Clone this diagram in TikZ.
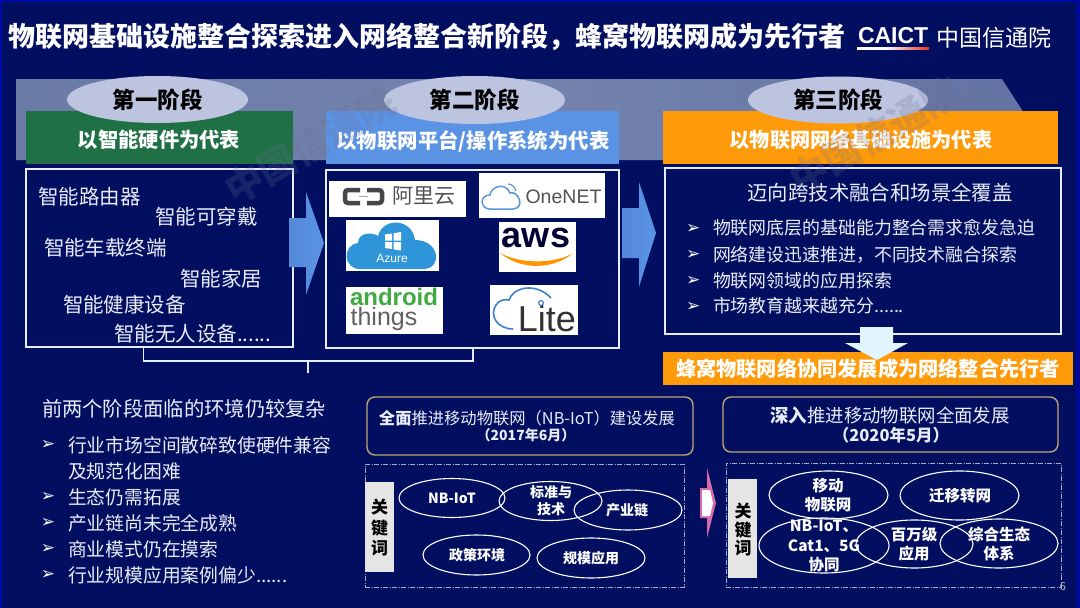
\documentclass[tikz,border=0pt]{standalone}
\usepackage{fontspec}
\setmainfont{Noto Sans CJK SC}
\newfontfamily\arrowfont{DejaVu Sans}
\newfontfamily\logofont{Liberation Sans}
\usetikzlibrary{shapes.geometric}
\definecolor{bgnavy}{HTML}{020F60}
\definecolor{bandblue}{HTML}{7484AE}
\definecolor{stagegreen}{HTML}{1F7045}
\definecolor{stageblue}{HTML}{5B93E4}
\definecolor{stageorange}{HTML}{FF9A0A}
\definecolor{ovalgrey}{HTML}{BCC4E0}
\definecolor{boxline}{HTML}{E6ECF8}
\definecolor{goldline}{HTML}{BBA673}
\definecolor{textwhite}{HTML}{E8ECF8}
\definecolor{wmgrey}{HTML}{6A6F90}
\newcommand{\fs}[1]{\fontsize{#1}{#1}\selectfont}
\newcommand{\bul}{\arrowfont ➢}
\tikzset{
  x=1pt,y=-1pt,
  txt/.style={inner sep=0pt,outer sep=0pt,text=textwhite},
  ltxt/.style={txt,anchor=west},
  stagelabel/.style={ellipse,fill=ovalgrey,inner sep=0pt,text=black,font=\fs{22.5}\bfseries},
  stagebar/.style={rectangle,inner sep=0pt},
  framebox/.style={rectangle,draw=boxline,line width=1.5pt,inner sep=0pt},
  goldbox/.style={rectangle,draw=goldline,line width=1.4pt,rounded corners=8pt,inner sep=0pt},
  dashbox/.style={rectangle,draw=boxline!70!bgnavy,line width=.9pt,dash pattern=on 5pt off 1.5pt on 1pt off 1.5pt,inner sep=0pt},
  keybox/.style={rectangle,fill=black!10,inner sep=0pt},
  keytxt/.style={inner sep=0pt,text=black,font=\fs{#1}\bfseries},
  oval/.style={ellipse,draw=white,line width=1.1pt,inner sep=0pt},
  ovaltxt/.style={inner sep=0pt,text=white,align=center,font=\fs{#1}\bfseries},
  bl/.style={ltxt,font=\fs{17.9}},
  bu/.style={ltxt,font=\fs{17},text=white},
  logobox/.style={rectangle,fill=white,inner sep=0pt},
  wm/.style={inner sep=0pt,rotate=30,text=wmgrey,opacity=.22,font=\fs{#1}\bfseries}
}
\begin{document}
\begin{tikzpicture}
\useasboundingbox (0,0) rectangle (1080,608);
\fill[bgnavy] (0,0) rectangle (1080,608);
\fill[blue!45!bgnavy] (0,0) rectangle (1080,1.5);
\fill[blue!45!bgnavy] (0,0) rectangle (1.5,608);
\fill[blue!35!bgnavy] (1076,0) rectangle (1080,608);

% title
\node[ltxt,text=white,font=\fs{27}\bfseries] (title) at (9,37) {物联网基础设施整合探索进入网络整合新阶段，蜂窝物联网成为先行者};
\node[ltxt,text=white,font=\logofont\fs{23}\bfseries] (caict) at (858,36) {CAICT};
\shade[left color=white,right color=white,middle color=white] (857,47) rectangle (890,49.5);
\shade[left color=white,right color=red!60!brown] (885,47) rectangle (929,49.5);
\node[ltxt,text=white,font=\fs{23}] (caictcn) at (936,38) {中国信通院};

% band
\shade[left color=bandblue!92!bgnavy,right color=bandblue!85!bgnavy,middle color=bandblue] (16,79) -- (1002,79) -- (1022,110) -- (1022,160) -- (16,160) -- cycle;

% stage bars
\node[stagebar,fill=stagegreen,minimum width=267pt,minimum height=53pt] (bar1) at (159.5,137.5) {};
\node[txt,text=white,font=\fs{20.3}\bfseries] (bar1t) at (159,140) {以智能硬件为代表};
\node[stagebar,fill=stageblue,minimum width=293pt,minimum height=53pt] (bar2) at (472.5,137.5) {};
\node[txt,text=white,font=\fs{20.4}\bfseries] (bar2t) at (473,141) {以物联网平台/操作系统为代表};
\node[stagebar,fill=stageorange,minimum width=395pt,minimum height=53pt] (bar3) at (860.5,137.5) {};
\node[txt,text=white,font=\fs{20.2}\bfseries] (bar3t) at (861,140) {以物联网网络基础设施为代表};

% stage ovals
\node[stagelabel,minimum width=181pt,minimum height=47pt] (st1) at (157.5,99.5) {第一阶段};
\node[stagelabel,minimum width=181pt,minimum height=48pt] (st2) at (474.5,100) {第二阶段};
\node[stagelabel,minimum width=180pt,minimum height=47pt] (st3) at (838,100) {第三阶段};

% frames
\node[framebox,minimum width=267pt,minimum height=178pt] (box1) at (159.5,258) {};
\node[framebox,minimum width=293pt,minimum height=178pt] (box2) at (472.5,259) {};
\node[framebox,minimum width=396pt,minimum height=166pt] (box3) at (863,251) {};

% box 1 text
\node[ltxt,font=\fs{20.5}] (h1) at (38,197) {智能路由器};
\node[ltxt,font=\fs{20.5}] (h2) at (155,217) {智能可穿戴};
\node[ltxt,font=\fs{20.5}] (h3) at (44,248) {智能车载终端};
\node[ltxt,font=\fs{20.5}] (h4) at (180,279) {智能家居};
\node[ltxt,font=\fs{20.5}] (h5) at (63,305) {智能健康设备};
\node[ltxt,font=\fs{20.5}] (h6) at (114,334) {智能无人设备......};

% arrows between stages
\shade[left color=stageblue!92!bgnavy,right color=stageblue] (289,218) -- (306,218) -- (306,192) -- (324,243) -- (306,295) -- (306,267) -- (289,267) -- cycle;
\shade[left color=stageblue!92!bgnavy,right color=stageblue] (622,208) -- (639,208) -- (639,182) -- (656,233) -- (639,287) -- (639,258) -- (622,258) -- cycle;

% logos
\node[logobox,minimum width=137pt,minimum height=36pt] (lali) at (397.5,199) {};
\draw[line width=4.5pt,draw=black!72,rounded corners=3pt] (360,190) -- (345,190) -- (345,203) -- (360,203);
\draw[line width=4.5pt,draw=black!72,rounded corners=3pt] (367,190) -- (382,190) -- (382,203) -- (367,203);
\draw[line width=.8pt,draw=black!35] (359,196.5) -- (368,196.5);
\node[txt,text=black!68,font=\fs{21}] (lalit) at (424,196) {阿里云};

\node[logobox,minimum width=126pt,minimum height=45pt] (lone) at (542,195.5) {};
\draw[line width=1.5pt,draw=cyan!60!blue!70] (490,209) .. controls (480,209) and (479,195) .. (490,195) .. controls (491,186) and (506,182) .. (510,193) .. controls (518,190) and (526,208) .. (513,209) -- cycle;
\draw[line width=1.1pt,draw=cyan!60!blue!70] (508,184) .. controls (512,184) and (515,187) .. (516,191);
\node[txt,text=black!68,font=\logofont\fs{19.5}] (lonet) at (563.5,197) {OneNET};

\node[logobox,minimum width=93pt,minimum height=51pt] (lazu) at (392.5,245.5) {};
\fill[cyan!70!blue!85] (360,269) .. controls (343,269) and (342,245) .. (358,243) .. controls (358,232) and (373,232) .. (378,236) .. controls (383,217) and (412,218) .. (415,240) .. controls (440,240) and (443,269) .. (423,269) -- cycle;
\fill[white] (385,234.5) -- (392,233.5) -- (392,240.5) -- (385,240.5) -- cycle;
\fill[white] (393.5,233.2) -- (401,232) -- (401,240.5) -- (393.5,240.5) -- cycle;
\fill[white] (385,242) -- (392,242) -- (392,249) -- (385,248) -- cycle;
\fill[white] (393.5,242) -- (401,242) -- (401,250.5) -- (393.5,249.3) -- cycle;
\node[txt,text=white,font=\logofont\fs{12}] (lazut) at (392,258) {Azure};

\node[logobox,minimum width=77pt,minimum height=50pt] (laws) at (537,247) {};
\node[txt,text=black!80!blue,font=\logofont\fs{36}\bfseries] (lawst) at (536,238) {aws};
\fill[orange!85!yellow] (500,253) .. controls (520,270) and (552,270) .. (572,254) .. controls (552,264) and (520,264) .. cycle;

\node[logobox,minimum width=97pt,minimum height=47pt] (land) at (394.5,310.5) {};
\node[txt,text=green!55!black!75!white,font=\logofont\fs{24}\bfseries] (landt) at (394,297) {android};
\node[txt,text=black!62,font=\logofont\fs{25}] (lthi) at (384,319) {things};

\node[logobox,minimum width=88pt,minimum height=50pt] (llit) at (534,310) {};
\draw[line width=1.6pt,draw=cyan!50!blue!80] (513,329) .. controls (497,329) and (489,315) .. (496,305) .. controls (499,300) and (505,299) .. (509,300) .. controls (513,287) and (536,282) .. (551,298);
\node[txt,text=black!80,font=\logofont\fs{36}] (llitt) at (547,319) {Lite};
\draw[line width=1.2pt,draw=cyan!50!blue!80,fill=white] (541,303) circle[radius=2.4pt];

% bracket
\coordinate (brL) at (143.5,347);
\coordinate (brR) at (473,348);
\coordinate (brS) at (308,361);
\coordinate (brE) at (308,373);
\draw[line width=1.5pt,draw=boxline] (brL) -- (143.5,361) -| (brR);
\draw[line width=1.5pt,draw=boxline] (brS) -- (brE);

% box 3 text
\node[txt,font=\fs{20.4}] (c0) at (880,193) {迈向跨技术融合和场景全覆盖};
\node[bu] (c1b) at (686,229) {\bul};
\node[bl] (c1) at (713,228) {物联网底层的基础能力整合需求愈发急迫};
\node[bu] (c2b) at (686,255) {\bul};
\node[bl] (c2) at (713,255) {网络建设迅速推进，不同技术融合探索};
\node[bu] (c3b) at (686,281) {\bul};
\node[bl] (c3) at (713,281) {物联网领域的应用探索};
\node[bu] (c4b) at (686,307) {\bul};
\node[bl] (c4) at (713,306) {市场教育越来越充分......};

% leader bar + down arrow
\node[rectangle,fill=stageorange,minimum width=410pt,minimum height=33pt,inner sep=0pt] (lead) at (868,368.5) {};
\fill[cyan!12!white] (860,327) -- (893,327) -- (893,343) -- (908,343) -- (877,360) -- (845,343) -- (860,343) -- cycle;
\node[txt,text=white,font=\fs{20.2}\bfseries] (leadt) at (868,369) {蜂窝物联网络协同发展成为网络整合先行者};

% bottom-left list
\node[ltxt,font=\fs{20.3}] (d0) at (42,409) {前两个阶段面临的环境仍较复杂};
\node[bu] (d1b) at (41,445) {\bul};
\node[ltxt,font=\fs{18.8}] (d1) at (68,445) {行业市场空间散碎致使硬件兼容};
\node[ltxt,font=\fs{18.8}] (d1x) at (68,471) {及规范化困难};
\node[bu] (d2b) at (41,497) {\bul};
\node[ltxt,font=\fs{18.8}] (d2) at (68,497) {生态仍需拓展};
\node[bu] (d3b) at (41,523) {\bul};
\node[ltxt,font=\fs{18.8}] (d3) at (68,523) {产业链尚未完全成熟};
\node[bu] (d4b) at (41,549) {\bul};
\node[ltxt,font=\fs{18.8}] (d4) at (68,549) {商业模式仍在摸索};
\node[bu] (d5b) at (41,575) {\bul};
\node[ltxt,font=\fs{18.8}] (d5) at (68,575) {行业规模应用案例偏少......};

% gold boxes
\node[goldbox,minimum width=326pt,minimum height=58pt] (gA) at (530,426) {};
\node[txt,font=\fs{16.3}] (gAt) at (527,418) {\textbf{全面}推进移动物联网（NB-IoT）建设发展};
\node[txt,font=\fs{14}\bfseries] (gAd) at (526,435) {（2017年6月）};
\node[goldbox,minimum width=335pt,minimum height=55pt] (gB) at (890.5,424.5) {};
\node[txt,font=\fs{18.4}] (gBt) at (890,415) {\textbf{深入}推进移动物联网全面发展};
\node[txt,font=\fs{16.5}\bfseries] (gBd) at (891,435) {（2020年5月）};

% dashed boxes
\node[dashbox,minimum width=319pt,minimum height=123pt] (dA) at (524.5,525.5) {};
\node[keybox,minimum width=29pt,minimum height=90pt] (kA) at (379.5,527) {};
\node[keytxt=17] (kA1) at (379.5,507.5) {关};
\node[keytxt=17] (kA2) at (379.5,528) {键};
\node[keytxt=17] (kA3) at (379.5,548) {词};
\node[dashbox,minimum width=335pt,minimum height=124pt] (dB) at (893.5,525) {};
\node[keybox,minimum width=29pt,minimum height=99pt] (kB) at (742.5,528.5) {};
\node[keytxt=17] (kB1) at (743,511) {关};
\node[keytxt=17] (kB2) at (743,530) {键};
\node[keytxt=17] (kB3) at (743,548) {词};

% arrow between dashed boxes
\fill[magenta!60!white!85!black] (700,488) -- (707,488) -- (707,468) -- (716,503) -- (707,538) -- (707,518) -- (700,518) -- cycle;
\fill[white] (702,490) -- (710,490) -- (713,503) -- (710,516) -- (702,516) -- cycle;

% ovals A
\node[oval,minimum width=106pt,minimum height=39pt] (a1) at (452,498) {};
\node[ovaltxt=14] (a1t) at (452,498) {NB-IoT};
\node[oval,minimum width=103pt,minimum height=39pt] (a2) at (550.5,501) {};
\node[ovaltxt=14] (a2t) at (551,501) {标准与\\[3pt]技术};
\node[oval,minimum width=108pt,minimum height=40pt] (a3) at (628,510) {};
\node[ovaltxt=14] (a3t) at (627,510) {产业链};
\node[oval,minimum width=107pt,minimum height=40pt] (a4) at (476.5,555) {};
\node[ovaltxt=14] (a4t) at (477,555) {政策环境};
\node[oval,minimum width=108pt,minimum height=40pt] (a5) at (591,558) {};
\node[ovaltxt=14] (a5t) at (591,558) {规模应用};

% ovals B
\node[oval,minimum width=119pt,minimum height=48pt] (b1) at (828.5,495) {};
\node[ovaltxt=15.5] (b1t) at (828,495) {移动\\[3.5pt]物联网};
\node[oval,minimum width=119pt,minimum height=49pt] (b2) at (959.5,495.5) {};
\node[ovaltxt=15.5] (b2t) at (960,495.5) {迁移转网};
\node[oval,minimum width=130pt,minimum height=55pt] (b3) at (824,545.5) {};
\node[ovaltxt=15.5] (b3t) at (824,546) {NB-IoT、\\[4pt]Cat1、5G\\[4pt]协同};
\node[oval,minimum width=117pt,minimum height=48pt] (b4) at (914.5,544) {};
\node[ovaltxt=15.5] (b4t) at (914,544.5) {百万级\\[3.5pt]应用};
\node[oval,minimum width=118pt,minimum height=49pt] (b5) at (999,543.5) {};
\node[ovaltxt=15.5] (b5t) at (999,544) {综合生态\\[3.5pt]体系};

\node[txt,text=black!25,font=\fs{11}] (pg) at (1063,587) {6};

% watermarks
\node[wm=38] (wm1) at (310,145) {中国信通院};
\node[wm=38] (wm2) at (875,135) {中国信通院};
\end{tikzpicture}
\end{document}
